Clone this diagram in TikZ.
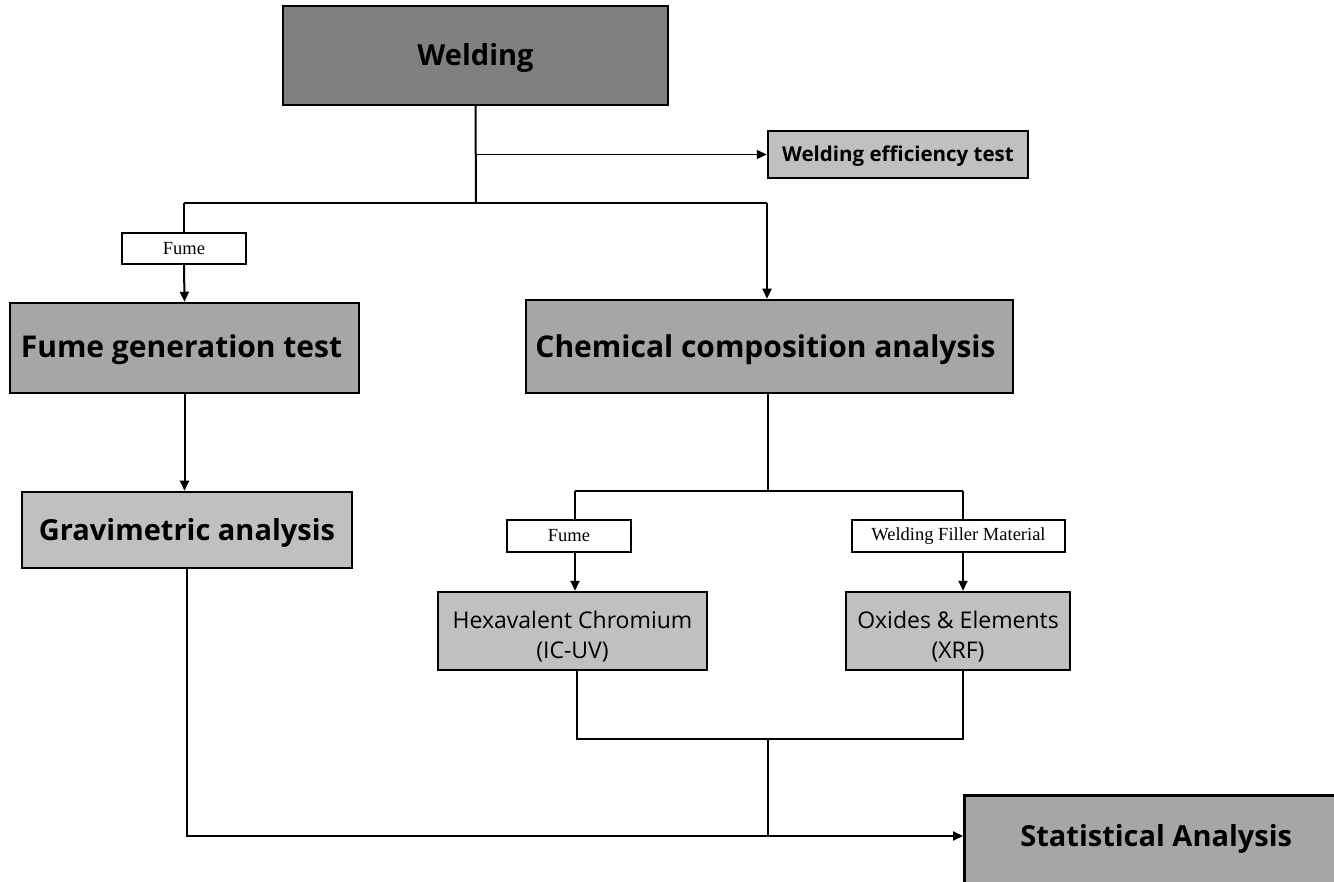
\documentclass[tikz,border=0pt]{standalone}
\usepackage{fontspec}
\setmainfont{Open Sans}
\newfontfamily\serifl{Liberation Serif}
\usetikzlibrary{arrows.meta}
\definecolor{gdark}{HTML}{808080}
\definecolor{gmid}{HTML}{A6A6A6}
\definecolor{glight}{HTML}{C0C0C0}
\tikzset{
  box/.style={draw=black, line width=2.5pt, rectangle, inner sep=0pt, align=center},
  lbl/.style={draw=black, line width=1.2pt, fill=white, rectangle, inner sep=0pt,
    font=\serifl\fontsize{18.5}{20}\selectfont},
  conn/.style={line width=2pt},
  arr/.style={line width=2pt, -{Triangle[length=10pt,width=9pt]}},
  thinarr/.style={line width=1pt, -{Triangle[length=10pt,width=9pt]}},
  big/.style={font=\bfseries\fontsize{29}{34}\selectfont, text height=26pt, text depth=6pt},
  huge/.style={font=\bfseries\fontsize{30}{34}\selectfont, text height=26pt, text depth=6pt},
  mid/.style={font=\fontsize{23}{30}\selectfont, text height=59pt, text depth=5pt},
}
\begin{document}
\begin{tikzpicture}[x=1pt,y=-1pt]
\useasboundingbox (0,0) rectangle (1334,882);
\node[box, big, fill=gdark, minimum width=385pt, minimum height=99pt] (weld) at (475.5,55.5) {Welding};
\node[box, fill=glight, minimum width=260pt, minimum height=47pt, font=\bfseries\fontsize{20.5}{24}\selectfont, text height=20pt, text depth=5pt] (eff) at (898,154.5) {Welding efficiency test};
\node[lbl, minimum width=124pt, minimum height=31pt] (fume1) at (184,248.5) {Fume};
\node[box, huge, fill=gmid, minimum width=349pt, minimum height=90pt] (fgen) at (184.5,348) {Fume generation test\hspace*{6pt}};
\node[box, huge, fill=gmid, minimum width=487pt, minimum height=93pt, text height=29pt] (chem) at (769.5,346.5) {Chemical composition analysis\hspace*{8pt}};
\node[box, big, fill=glight, minimum width=330pt, minimum height=76pt] (grav) at (187,530) {Gravimetric analysis};
\node[lbl, minimum width=124pt, minimum height=32pt] (fume2) at (569,536) {Fume};
\node[lbl, minimum width=213pt, minimum height=32pt] (filler) at (958.5,536) {Welding Filler Material};
\node[box, mid, fill=glight, minimum width=269pt, minimum height=78pt] (hex) at (572.5,631) {Hexavalent Chromium\\(IC-UV)};
\node[box, mid, fill=glight, minimum width=224pt, minimum height=78pt] (oxi) at (958,631) {Oxides \& Elements\\(XRF)};
\node[box, big, fill=gmid, anchor=north west, minimum width=384pt, inner xsep=0pt, inner ysep=30pt, text height=21pt, text depth=60pt] (stat) at (963,794) {Statistical Analysis};
% junctions
\coordinate (j1) at (476,203);
\coordinate (jl) at (184,203);
\coordinate (jr) at (767,203);
\coordinate (j2) at (768,491);
\coordinate (j2l) at (575,491);
\coordinate (j2r) at (963,491);
\coordinate (b1) at (577,739);
\coordinate (b2) at (963,739);
\coordinate (b3) at (768,739);
\coordinate (statin) at (963,836);
% connectors
\draw[conn] (weld.south) -- (j1);
\draw[thinarr] (weld.south |- eff.west) -- (eff.west);
\draw[conn] (jl) -- (jr);
\draw[conn] (jl) -- (fume1.north);
\draw[arr] (fume1.south) -- (fgen.north);
\draw[arr] (jr) -- (jr |- chem.north);
\draw[arr] (fgen.south) -- (fgen.south |- grav.north);
\draw[conn] (chem.south -| j2) -- (j2);
\draw[conn] (j2l) -- (j2r);
\draw[conn] (j2l) -- (j2l |- fume2.north);
\draw[arr] (j2l |- fume2.south) -- (j2l |- hex.north);
\draw[conn] (j2r) -- (j2r |- filler.north);
\draw[arr] (j2r |- filler.south) -- (j2r |- oxi.north);
\draw[conn] (b1 |- hex.south) -- (b1) -- (b2) -- (b2 |- oxi.south);
\draw[conn] (b3) -- (b3 |- statin);
\draw[arr] (grav.south) -- (grav.south |- statin) -- (statin);
\end{tikzpicture}
\end{document}
